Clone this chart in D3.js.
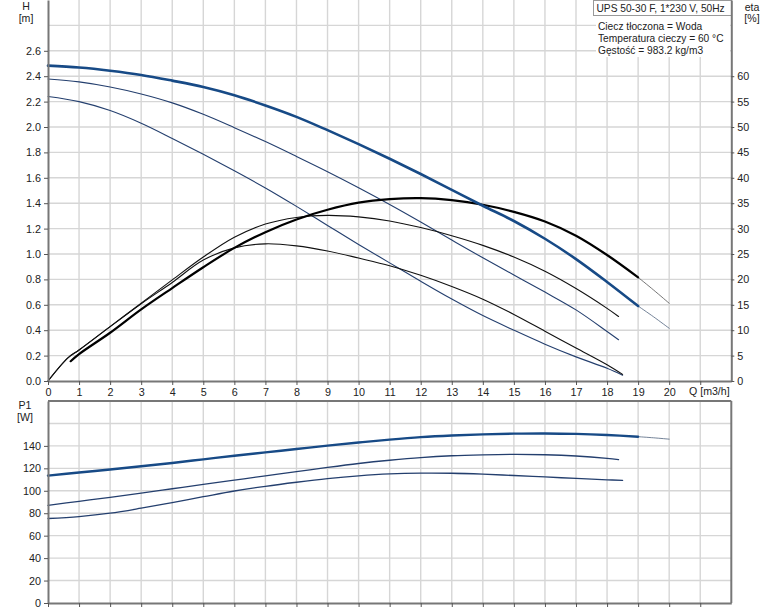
<!DOCTYPE html>
<html><head><meta charset="utf-8">
<script src="https://cdn.jsdelivr.net/npm/d3@7"></script>
<style>
body{margin:0;background:#fff}
svg{display:block}
text{font-family:"Liberation Sans",Arial,sans-serif;font-size:10.6px;fill:#222}
</style>
</head><body>
<svg id="c" width="774" height="611"></svg>
<script>
// ---------- data ----------
const qH1 = [0,1,2,3,4,5,6,7,8,9,10,11,12,13,14,15,16,17,18,19];
const h1  = [2.483,2.468,2.443,2.41,2.365,2.315,2.25,2.17,2.08,1.975,1.865,1.75,1.63,1.505,1.38,1.26,1.12,0.96,0.78,0.59];
const qExt = [19,19.5,20];
const h1Ext = [0.59,0.505,0.415];

const qH2 = [0,1,2,3,4,5,6,7,8,9,10,11,12,13,14,15,16,17,18,18.37];
const h2  = [2.378,2.355,2.315,2.26,2.19,2.1,1.995,1.885,1.768,1.648,1.522,1.39,1.252,1.11,0.97,0.835,0.7,0.56,0.39,0.325];

const qH3 = [0,1,2,3,4,5,6,7,8,9,10,11,12,13,14,15,16,17,18,18.5];
const h3  = [2.24,2.2,2.13,2.03,1.91,1.785,1.655,1.52,1.375,1.225,1.075,0.93,0.785,0.645,0.515,0.4,0.29,0.19,0.1,0.045];

const qE1 = [0.73,1,2,3,4,5,6,7,8,9,10,11,12,13,14,15,16,17,18,19];
const eta1 = [3.9,5.3,9.5,14.1,18.3,22.4,26.2,29.3,31.8,33.7,35.1,35.8,36.0,35.6,34.7,33.3,31.4,28.6,24.8,20.4];
const eta1Ext = [20.4,17.9,15.3];

const qE2 = [0,0.65,1,2,3,4,5,6,7,8,9,10,11,12,13,14,15,16,17,18,18.37];
const eta2 = [0,4.6,6.1,10.7,15.3,19.9,24.4,28.3,30.9,32.2,32.6,32.3,31.5,30.2,28.6,26.7,24.4,21.6,18.2,14.3,12.7];

const qE3 = [0,0.65,1,2,3,4,5,6,7,8,9,10,11,12,13,14,15,16,17,18,18.5];
const eta3 = [0,4.6,6.1,10.7,15.2,19.4,23.8,26.2,27.0,26.6,25.6,24.2,22.7,20.8,18.6,16.1,13.1,9.8,6.5,3.2,1.3];

const qP1 = [0,1,2,3,4,5,6,7,8,9,10,11,12,13,14,15,16,17,18,19];
const p1  = [113.5,116.3,119,121.8,124.8,128,131.2,134.2,137.2,140.2,143,145.6,147.8,149.3,150.3,150.9,151.1,150.7,149.7,148.2];
const p1Ext = [148.2,147.2,146];

const qP2 = [0,1,2,3,4,5,6,7,8,9,10,11,12,13,14,15,16,17,18,18.37];
const p2  = [87,90.6,94.2,97.9,101.8,105.7,109.5,113.3,117,120.8,124.3,127.2,129.6,131.2,132,132.4,132.1,131,128.9,127.8];

const qP3 = [0,1,2,3,4,5,6,7,8,9,10,11,12,13,14,15,16,17,18,18.5];
const p3  = [75.3,77,80,84.5,89.5,94.7,99.8,104,107.6,110.8,113.3,115,115.7,115.6,114.8,113.6,112.3,111,109.8,109.2];

const qTicks = [0,1,2,3,4,5,6,7,8,9,10,11,12,13,14,15,16,17,18,19,20,21];
const qTickLabels = ["0","1","2","3","4","5","6","7","8","9","10","11","12","13","14","15","16","17","18","19","20",""];
const hTicks = [0,0.2,0.4,0.6,0.8,1.0,1.2,1.4,1.6,1.8,2.0,2.2,2.4,2.6];
const hGrid = [0.2,0.4,0.6,0.8,1.0,1.2,1.4,1.6,1.8,2.0,2.2,2.4,2.6,2.8];
const etaTicks = [0,5,10,15,20,25,30,35,40,45,50,55,60];
const pTicks = [0,20,40,60,80,100,120,140];
const pGrid = [20,40,60,80,100,120,140,160];
const infoLines = ["Ciecz tłoczona = Woda","Temperatura cieczy = 60 °C","Gęstość = 983.2 kg/m3"];
const title = "UPS 50-30 F, 1*230 V, 50Hz";

// ---------- scales ----------
const svg = d3.select("#c");
const x  = d3.scaleLinear().domain([0,22]).range([48,731.3]);
const yH = d3.scaleLinear().domain([0,3]).range([381,0]);
const yE = d3.scaleLinear().domain([0,75]).range([381,0]);
const yP = d3.scaleLinear().domain([0,180]).range([603,401]);

const gridC = "#d6d6d6";
const axisC = "#777";

// ---------- grids ----------
const gGrid = svg.append("g").attr("stroke",gridC).attr("stroke-width",1.4);
qTicks.slice(1).forEach(q=>{
  gGrid.append("line").attr("x1",x(q)).attr("x2",x(q)).attr("y1",0).attr("y2",381);
  gGrid.append("line").attr("x1",x(q)).attr("x2",x(q)).attr("y1",401).attr("y2",603);
});
hGrid.forEach(h=>{
  gGrid.append("line").attr("x1",x(0)).attr("x2",x(22)).attr("y1",yH(h)).attr("y2",yH(h));
});
pGrid.forEach(p=>{
  gGrid.append("line").attr("x1",x(0)).attr("x2",x(22)).attr("y1",yP(p)).attr("y2",yP(p));
});

// ---------- info box ----------
svg.append("rect").attr("x",596).attr("y",16).attr("width",134).attr("height",41).attr("fill","#fff");
svg.append("rect").attr("x",593.5).attr("y",0.5).attr("width",138).attr("height",15).attr("fill","#fff").attr("stroke","#999");
svg.append("text").attr("x",596.5).attr("y",11.5).style("font-size","10.2px").text(title);
infoLines.forEach((t,i)=>svg.append("text").attr("x",598).attr("y",30+i*12).style("font-size","10.2px").text(t));

// ---------- curves ----------
function draw(scaleY, qs, vs, color, width, op){
  const pts = qs.map((q,i)=>[q,vs[i]]);
  const line = d3.line().x(d=>x(d[0])).y(d=>scaleY(d[1])).curve(d3.curveCatmullRom.alpha(0.5));
  svg.append("path").datum(pts).attr("d",line).attr("fill","none")
    .attr("stroke",color).attr("stroke-width",width).attr("stroke-opacity",op||1)
    .attr("stroke-linecap","round").attr("stroke-linejoin","round");
}
const blueThick = "#174a86", blueThin = "#243f6e";

// extensions
draw(yH, qExt, h1Ext, "#53657f", 0.9, 0.9);
draw(yE, qExt, eta1Ext, "#555", 0.9, 0.9);
draw(yP, qExt, p1Ext, "#53657f", 0.9, 0.9);

draw(yH, qH3, h3, blueThin, 1.1);
draw(yH, qH2, h2, blueThin, 1.1);
draw(yE, qE3, eta3, "#111", 1.1);
draw(yE, qE2, eta2, "#111", 1.1);
draw(yE, qE1, eta1, "#000", 2.2);
draw(yH, qH1, h1, blueThick, 2.6);

draw(yP, qP3, p3, blueThin, 1.3);
draw(yP, qP2, p2, blueThin, 1.3);
draw(yP, qP1, p1, blueThick, 2.4);

// ---------- axes ----------
function styleAxis(g){
  g.select(".domain").attr("stroke",axisC).attr("stroke-width",2);
  g.selectAll(".tick line").attr("stroke","#555");
  g.selectAll(".tick text").attr("fill","#222").style("font-size","10.8px")
   .style("font-family","'Liberation Sans',Arial,sans-serif");
}
// top panel
svg.append("g").attr("transform","translate(48,0)")
  .call(d3.axisLeft(yH).tickValues(hTicks).tickSize(4).tickSizeOuter(0).tickFormat(d3.format(".1f")))
  .call(styleAxis);
svg.append("g").attr("transform","translate(0,381)")
  .call(d3.axisBottom(x).tickValues(qTicks).tickSize(4).tickSizeOuter(0).tickFormat((d,i)=>qTickLabels[i]))
  .call(styleAxis);
svg.append("g").attr("transform","translate(731.3,0)")
  .call(d3.axisRight(yE).tickValues(etaTicks).tickSize(3).tickSizeOuter(0))
  .call(styleAxis);

// bottom panel
svg.append("g").attr("transform","translate(48,0)")
  .call(d3.axisLeft(yP).tickValues(pTicks).tickSize(4).tickSizeOuter(0))
  .call(styleAxis);
svg.append("g").attr("transform","translate(0,603)")
  .call(d3.axisBottom(x).tickValues(qTicks).tickSize(4).tickSizeOuter(0).tickFormat(""))
  .call(styleAxis);
svg.append("line").attr("x1",x(0)).attr("x2",x(22)).attr("y1",401).attr("y2",401).attr("stroke",axisC).attr("stroke-width",2);
svg.append("line").attr("x1",x(22)).attr("x2",x(22)).attr("y1",401).attr("y2",603).attr("stroke",axisC).attr("stroke-width",2);

// ---------- axis titles ----------
svg.append("text").attr("x",26).attr("y",10).attr("text-anchor","middle").text("H");
svg.append("text").attr("x",26).attr("y",22).attr("text-anchor","middle").text("[m]");
svg.append("text").attr("x",752).attr("y",11).attr("text-anchor","middle").text("eta");
svg.append("text").attr("x",752).attr("y",22).attr("text-anchor","middle").text("[%]");
svg.append("text").attr("x",689).attr("y",395).text("Q [m3/h]");
svg.append("text").attr("x",25).attr("y",409).attr("text-anchor","middle").text("P1");
svg.append("text").attr("x",25).attr("y",421).attr("text-anchor","middle").text("[W]");
</script>
</body></html>
